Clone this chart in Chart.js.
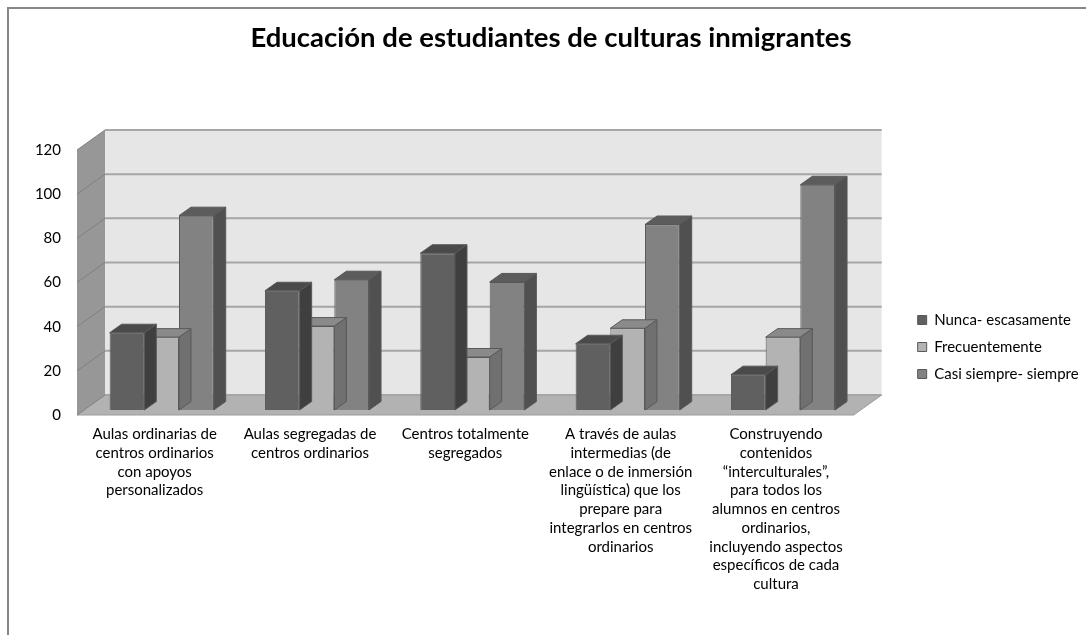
<!DOCTYPE html>
<html>
<head>
<meta charset="utf-8">
<title>Educación de estudiantes de culturas inmigrantes</title>
<script src="https://cdn.jsdelivr.net/npm/chart.js@4.4.0/dist/chart.umd.min.js"></script>
<style>
  html, body { margin: 0; padding: 0; background: #fff; }
  canvas { display: block; }
</style>
</head>
<body>
<canvas id="chart" width="1086" height="635"></canvas>
<script>
const categories = [
  ['Aulas ordinarias de', 'centros ordinarios', 'con apoyos', 'personalizados'],
  ['Aulas segregadas de', 'centros ordinarios'],
  ['Centros totalmente', 'segregados'],
  ['A través de aulas', 'intermedias (de', 'enlace o de inmersión', 'lingüística) que los', 'prepare para', 'integrarlos en centros', 'ordinarios'],
  ['Construyendo', 'contenidos', '“interculturales”,', 'para todos los', 'alumnos en centros', 'ordinarios,', 'incluyendo aspectos', 'específicos de cada', 'cultura']
];
const seriesNames = ['Nunca- escasamente', 'Frecuentemente', 'Casi siempre- siempre'];
const nunca = [35, 54, 71, 30, 16];
const frecuentemente = [33, 38, 24, 37, 33];
const casiSiempre = [88, 59, 58, 84, 102];
const yTicks = [0, 20, 40, 60, 80, 100, 120];

// front / top / side shading for each series
const shades = [
  { front: '#606060', top: '#4a4a4a', side: '#3f3f3f' },
  { front: '#b3b3b3', top: '#8a8a8a', side: '#707070' },
  { front: '#828282', top: '#5c5c5c', side: '#505050' }
];
const EDGE = '#585858';
const FONT = 'Lato, "Open Sans", sans-serif';

// perspective offsets in pixels
const WALL = { dx: 28, dy: -20 };
const BAR_OFFSET = { dx: 7, dy: -5 };
const BAR_DEPTH = { dx: 12, dy: -8.5 };

function poly(ctx, pts) {
  ctx.beginPath();
  ctx.moveTo(pts[0][0], pts[0][1]);
  for (let i = 1; i < pts.length; i++) ctx.lineTo(pts[i][0], pts[i][1]);
  ctx.closePath();
}

const box3d = {
  id: 'box3d',
  beforeDraw(chart) {
    const ctx = chart.ctx;
    ctx.save();
    ctx.strokeStyle = '#878787';
    ctx.lineWidth = 2;
    ctx.strokeRect(8, 8, chart.width + 20, chart.height + 20);
    ctx.restore();
  },
  beforeDatasetsDraw(chart) {
    const { ctx, chartArea: a, scales: { y } } = chart;
    const { dx, dy } = WALL;
    ctx.save();

    // floor
    poly(ctx, [[a.left, a.bottom], [a.right, a.bottom], [a.right + dx, a.bottom + dy], [a.left + dx, a.bottom + dy]]);
    ctx.fillStyle = '#b2b2b2';
    ctx.fill();
    ctx.strokeStyle = '#9a9a9a';
    ctx.lineWidth = 1;
    ctx.stroke();

    // back wall
    ctx.fillStyle = '#e6e6e6';
    ctx.fillRect(a.left + dx, a.top + dy, a.right - a.left, a.bottom - a.top);

    // side wall
    poly(ctx, [[a.left, a.top], [a.left + dx, a.top + dy], [a.left + dx, a.bottom + dy], [a.left, a.bottom]]);
    ctx.fillStyle = '#979797';
    ctx.fill();

    // gridlines on both walls
    yTicks.forEach(v => {
      const py = y.getPixelForValue(v);
      ctx.strokeStyle = '#a6a6a6';
      ctx.lineWidth = 2;
      ctx.beginPath();
      ctx.moveTo(a.left + dx, py + dy);
      ctx.lineTo(a.right + dx, py + dy);
      ctx.stroke();
      ctx.strokeStyle = '#808080';
      ctx.lineWidth = 1;
      ctx.beginPath();
      ctx.moveTo(a.left, py);
      ctx.lineTo(a.left + dx, py + dy);
      ctx.stroke();
    });
    ctx.restore();

    // bars stand a little behind the front edge of the floor
    ctx.save();
    ctx.translate(BAR_OFFSET.dx, BAR_OFFSET.dy);
  },
  afterDatasetDraw(chart, args) {
    const ctx = chart.ctx;
    const shade = shades[args.index];
    const { dx, dy } = BAR_DEPTH;
    ctx.save();
    ctx.strokeStyle = EDGE;
    ctx.lineWidth = 1;
    args.meta.data.forEach(bar => {
      const { x, y, base, width } = bar.getProps(['x', 'y', 'base', 'width'], true);
      const l = x - width / 2, r = x + width / 2;
      poly(ctx, [[r, y], [r + dx, y + dy], [r + dx, base + dy], [r, base]]);
      ctx.fillStyle = shade.side;
      ctx.fill();
      ctx.stroke();
      poly(ctx, [[l, y], [r, y], [r + dx, y + dy], [l + dx, y + dy]]);
      ctx.fillStyle = shade.top;
      ctx.fill();
      ctx.stroke();
    });
    ctx.restore();
  },
  afterDatasetsDraw(chart) {
    chart.ctx.restore();
  }
};

const series = [nunca, frecuentemente, casiSiempre];

new Chart(document.getElementById('chart'), {
  type: 'bar',
  data: {
    labels: categories,
    datasets: series.map((values, i) => ({
      label: seriesNames[i],
      data: values,
      backgroundColor: shades[i].front,
      borderColor: EDGE,
      borderWidth: 1
    }))
  },
  options: {
    responsive: false,
    animation: false,
    events: [],
    datasets: { bar: { categoryPercentage: 0.67, barPercentage: 1 } },
    layout: { padding: { left: 19, right: 3, top: 8, bottom: 10 } },
    plugins: {
      title: {
        display: true,
        text: 'Educación de estudiantes de culturas inmigrantes',
        color: '#000',
        font: { family: FONT, size: 27.5, weight: 'bold', lineHeight: 1.2 },
        padding: { top: 13.5, bottom: 95.5 }
      },
      legend: {
        position: 'right',
        align: 'center',
        // empty title only pushes the entries down
        title: { display: true, text: '', font: { size: 10, lineHeight: 1.2 }, padding: { top: 49, bottom: 0 } },
        labels: {
          boxWidth: 9,
          boxHeight: 9,
          padding: 12,
          color: '#000',
          font: { family: FONT, size: 15 }
        }
      },
      tooltip: { enabled: false }
    },
    scales: {
      x: {
        grid: { display: false, drawTicks: false },
        border: { display: false },
        ticks: {
          padding: 10,
          color: '#000',
          autoSkip: false,
          maxRotation: 0,
          font: { family: FONT, size: 15, lineHeight: 1.25 }
        },
        afterFit: s => { s.height = 210; }
      },
      y: {
        min: 0,
        max: 120,
        grid: { display: false, drawTicks: false },
        border: { display: false },
        ticks: {
          stepSize: 20,
          padding: 16,
          color: '#000',
          font: { family: FONT, size: 15 }
        },
        afterFit: s => { s.width = 58; }
      },
      gap: {
        type: 'linear',
        position: 'right',
        grid: { display: false, drawTicks: false },
        border: { display: false },
        ticks: { display: false },
        afterFit: s => { s.width = 52; }
      }
    }
  },
  plugins: [box3d]
});
</script>
</body>
</html>
